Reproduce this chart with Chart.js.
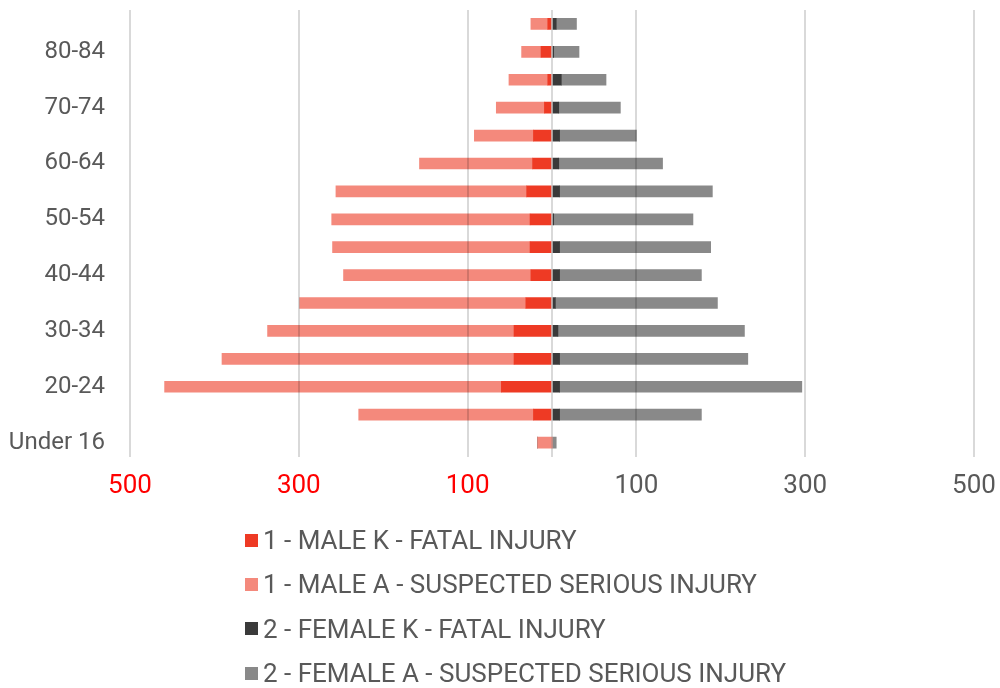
<!DOCTYPE html>
<html>
<head>
<meta charset="utf-8">
<script src="https://cdn.jsdelivr.net/npm/chart.js@4.4.0/dist/chart.umd.min.js"></script>
<style>
  html, body { margin: 0; padding: 0; background: #fff; }
  #wrap { position: relative; width: 1000px; height: 688px; }
  #legend { position: absolute; left: 245px; top: 518px; font-family: Roboto, sans-serif; font-size: 26px; color: #595959; }
  .item { display: flex; align-items: center; height: 44.3px; white-space: nowrap; }
  .box { width: 13px; height: 13px; margin-right: 5px; flex: none; }
</style>
</head>
<body>
<div id="wrap">
  <canvas id="chart" width="1000" height="688"></canvas>
  <div id="legend"></div>
</div>
<script>
// Věkové skupiny shora dolů (zobrazuje se jen každý druhý popisek)
const ageGroups = ['85+', '80-84', '75-79', '70-74', '65-69', '60-64', '55-59', '50-54',
  '45-49', '40-44', '35-39', '30-34', '25-29', '20-24', '16-19', 'Under 16'];

// Počty (muži se kreslí doleva, proto se při stavbě datasetu neguje)
const maleFatal   = [5, 13, 5, 9, 22, 23, 30, 26, 26, 25, 31, 45, 45, 60, 22, 0];
const maleSerious = [20, 23, 46, 57, 70, 134, 226, 235, 234, 222, 268, 292, 346, 399, 207, 17];
const femaleFatal   = [5, 2, 11, 8, 9, 8, 9, 2, 9, 9, 4, 7, 9, 9, 9, 0];
const femaleSerious = [24, 30, 53, 73, 91, 123, 181, 165, 179, 168, 192, 221, 223, 287, 168, 5];

const xTicks = [-500, -300, -100, 0, 100, 300, 500];

const seriesNames = [
  '1 - MALE K - FATAL INJURY',
  '1 - MALE A - SUSPECTED SERIOUS INJURY',
  '2 - FEMALE K - FATAL INJURY',
  '2 - FEMALE A - SUSPECTED SERIOUS INJURY',
];
const seriesColors = ['#ee3a24', '#f4897c', '#3a3a3a', '#898989'];

const textColor = '#595959';
const fontFamily = 'Roboto, sans-serif';

const seriesData = [
  maleFatal.map((v) => -v),
  maleSerious.map((v) => -v),
  femaleFatal,
  femaleSerious,
];

const ctx = document.getElementById('chart').getContext('2d');

const chart = new Chart(ctx, {
  type: 'bar',
  data: {
    labels: ageGroups,
    datasets: seriesNames.map((name, i) => ({
      label: name,
      data: seriesData[i],
      backgroundColor: seriesColors[i],
      borderWidth: 0,
      barThickness: 11,
    })),
  },
  options: {
    indexAxis: 'y',
    responsive: false,
    animation: false,
    layout: { padding: { top: 10, right: 26, bottom: 191.5, left: 0 } },
    scales: {
      x: {
        stacked: true,
        min: -500,
        max: 500,
        afterBuildTicks: (axis) => { axis.ticks = xTicks.map((v) => ({ value: v })); },
        afterFit: (axis) => {
          axis.height = 40;
          axis.paddingLeft = 0;
          axis.paddingRight = 0;
        },
        grid: { color: 'rgba(0,0,0,0.15)', lineWidth: 2, z: 1, drawTicks: false },
        border: { display: false },
        ticks: {
          padding: 14,
          autoSkip: false,
          maxRotation: 0,
          font: { family: fontFamily, size: 26 },
          color: (c) => (c.tick && c.tick.value < 0 ? '#ff0000' : textColor),
          callback: (v) => (v === 0 ? '' : String(Math.abs(v))),
        },
      },
      y: {
        stacked: true,
        afterFit: (axis) => {
          axis.width = 130;
          axis.paddingTop = 0;
          axis.paddingBottom = 0;
        },
        grid: { display: false, drawTicks: false },
        border: { display: false },
        ticks: {
          padding: 25,
          autoSkip: false,
          font: { family: fontFamily, size: 24 },
          color: textColor,
          callback: (v, i) => (i % 2 === 1 ? ageGroups[i] : ''),
        },
      },
    },
    plugins: {
      legend: { display: false },
      tooltip: { enabled: false },
    },
  },
});

// Legenda pod grafem, jedna položka na řádek
const legendEl = document.getElementById('legend');
chart.options.plugins.legend.labels.generateLabels(chart).forEach((item) => {
  const row = document.createElement('div');
  row.className = 'item';
  const box = document.createElement('span');
  box.className = 'box';
  box.style.background = item.fillStyle;
  const txt = document.createElement('span');
  txt.textContent = item.text;
  row.appendChild(box);
  row.appendChild(txt);
  legendEl.appendChild(row);
});
</script>
</body>
</html>
